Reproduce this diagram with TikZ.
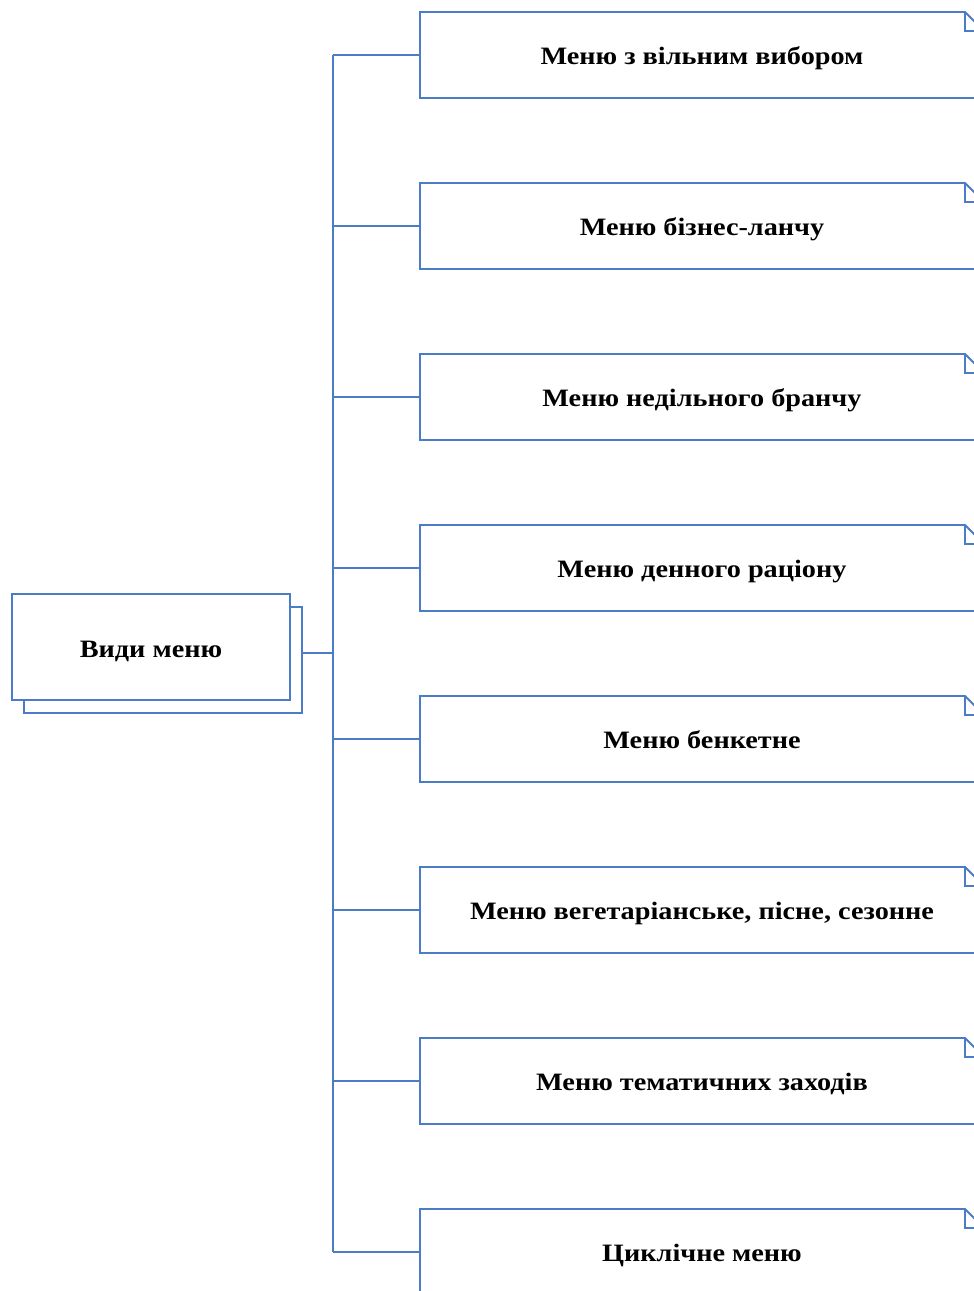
\documentclass[tikz,border=0pt]{standalone}
\usepackage{fontspec}
\setmainfont[FakeStretch=1.13]{Liberation Serif}
\definecolor{menublue}{RGB}{74,124,200}
\begin{document}
\begin{tikzpicture}[x=1pt,y=-1pt,
  line/.style={draw=menublue, line width=1.8pt},
  lbl/.style={font=\fontsize{25}{30}\selectfont\bfseries, text=black},
  itembox/.style={lbl, shape=rectangle, draw=none, inner sep=0pt, outer sep=0pt,
    text height=18pt, text depth=0pt,
    minimum width=564pt, minimum height=86pt},
  rootbox/.style={line, fill=white, shape=rectangle, inner sep=0pt, outer sep=0pt,
    text height=20pt, text depth=0pt,
    minimum width=278pt, minimum height=106pt}]
  \useasboundingbox (0,0) rectangle (974,1291);
  \clip (0,0) rectangle (974,1291);
  \fill[white] (0,0) rectangle (974,1291);

  % root: stacked pair of boxes
  \node[rootbox] (rb) at (163,660) {};
  \node[rootbox, lbl] (root) at (151,647) {Види меню};
  \coordinate (j) at (333,653);
  \draw[line] (rb.east |- j) -- (j);

  % menu kinds
  \foreach \t [count=\i] in {Меню з вільним вибором, Меню бізнес-ланчу,
      Меню недільного бранчу, Меню денного раціону, Меню бенкетне,
      {Меню вегетаріанське, пісне, сезонне}, Меню тематичних заходів,
      Циклічне меню} {
    \node[itembox] (m\i) at (702,{55+171*(\i-1)}) {\t};
    \draw[line, line join=miter] (m\i.south west) -- (m\i.north west)
      -- ([xshift=-19pt]m\i.north east) -- ([yshift=-19pt]m\i.north east)
      -- (m\i.south east) -- cycle;
    \draw[line] ([xshift=-19pt]m\i.north east)
      -- ([xshift=-19pt,yshift=-19pt]m\i.north east)
      -- ([yshift=-19pt]m\i.north east);
    \draw[line] (m\i.west -| j) -- (m\i.west);
  }

  % trunk
  \draw[line] (m1.west -| j) -- (m8.west -| j);
\end{tikzpicture}
\end{document}
